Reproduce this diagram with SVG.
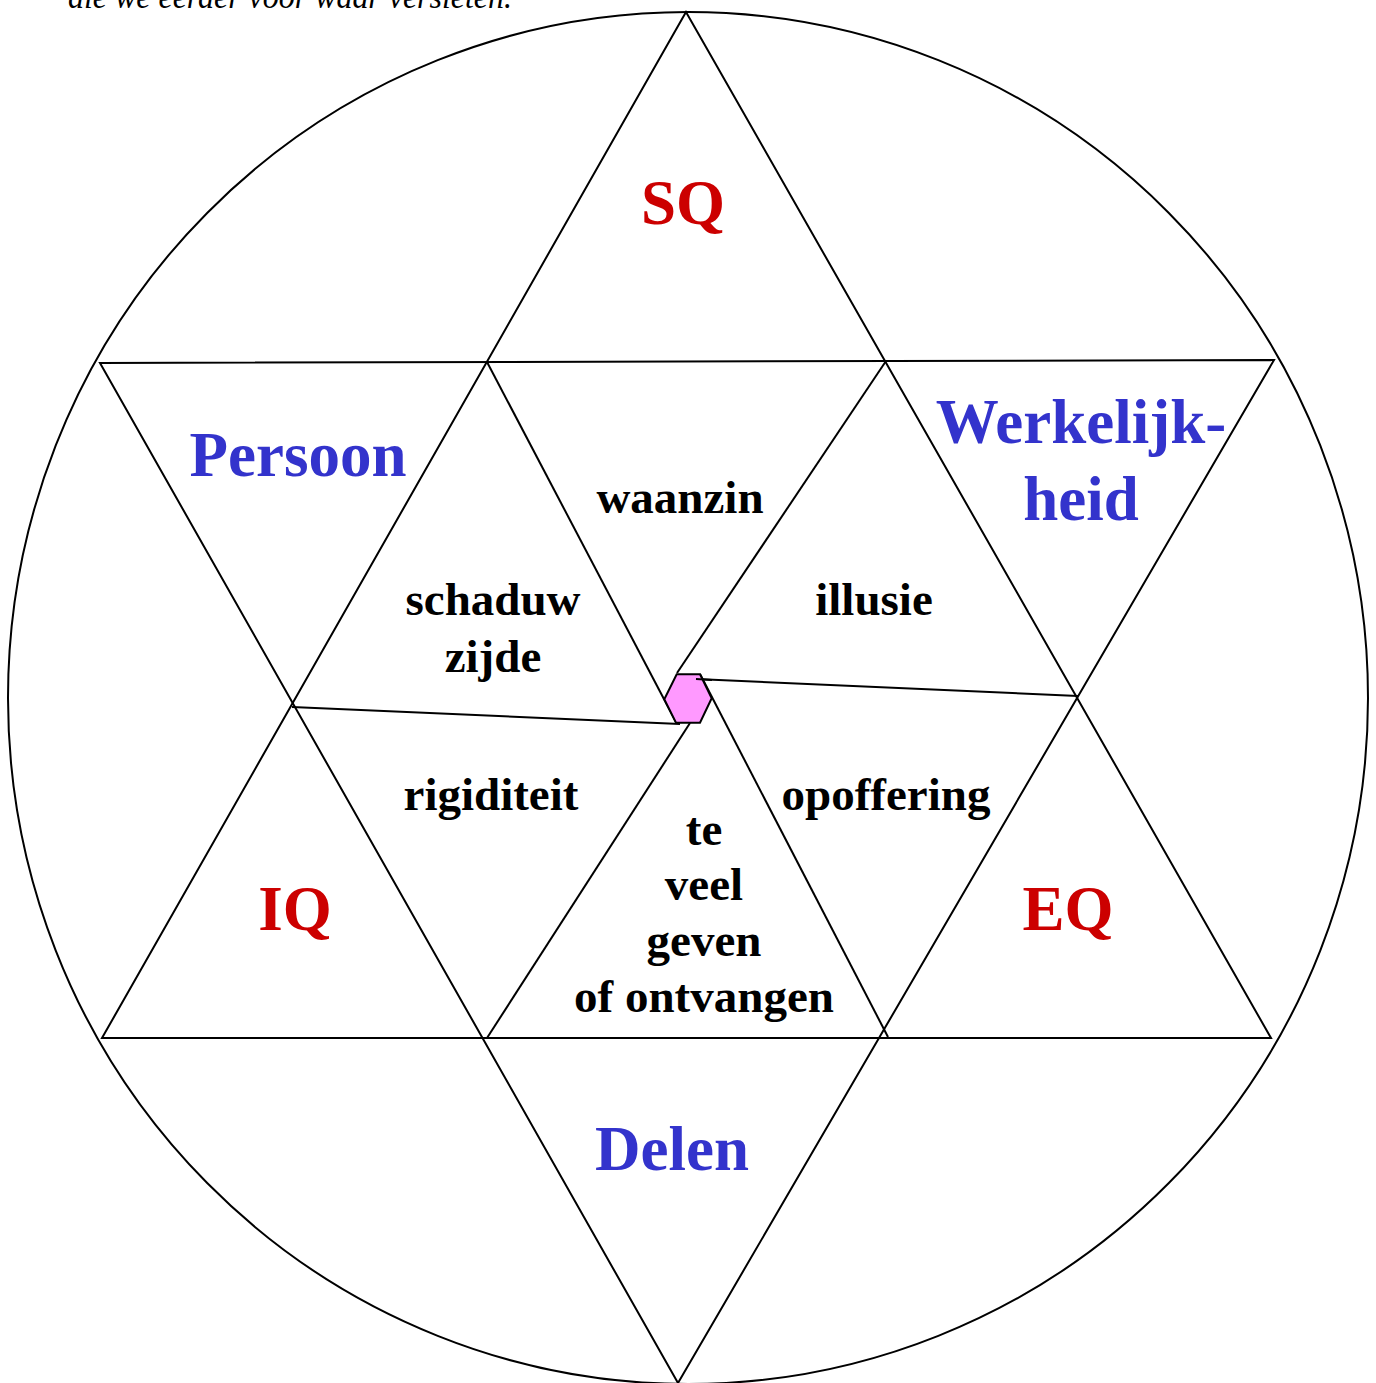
<svg xmlns="http://www.w3.org/2000/svg" width="1376" height="1383" viewBox="0 0 1376 1383">
<style>
.ln{fill:none;stroke:#000;stroke-width:2;stroke-linejoin:miter}
.big{font-family:"Liberation Serif","Times New Roman",serif;font-weight:bold;font-size:63px;text-anchor:middle}
.red{fill:#cc0000}
.blue{fill:#3333cc}
.blk{font-family:"Liberation Serif","Times New Roman",serif;font-weight:bold;font-size:47px;text-anchor:middle;fill:#000}
</style>
<rect width="1376" height="1383" fill="#fff"/>
<text x="68" y="8" font-family="Liberation Serif, Times New Roman, serif" font-style="italic" font-size="33" textLength="444" lengthAdjust="spacingAndGlyphs">die we eerder voor waar versleten.</text>
<g id="lines">
<ellipse class="ln" cx="688" cy="698" rx="680" ry="686"/>
<polygon class="ln" points="686,12 102,1038 1271,1038"/>
<polygon class="ln" points="100,363 1274,360 678,1383"/>
<line class="ln" x1="487" y1="362" x2="676" y2="722"/>
<line class="ln" x1="292" y1="707" x2="680" y2="724"/>
<line class="ln" x1="886" y1="361" x2="677" y2="673"/>
<line class="ln" x1="690" y1="723" x2="487" y2="1038"/>
<line class="ln" x1="700" y1="674" x2="888" y2="1037"/>
<line class="ln" x1="696" y1="679" x2="1078" y2="696"/>
</g>
<g id="center">
<polygon points="676.7,674.3 700,674.3 711.7,698.3 700,722.7 676,722.7 664.3,699.3" fill="#ff99ff" stroke="#000" stroke-width="2"/>
<line class="ln" x1="696" y1="679" x2="712" y2="680"/>
</g>
<g id="SQ"><text class="big red" x="683" y="224">SQ</text></g>
<g id="IQ"><text class="big red" x="295" y="930">IQ</text></g>
<g id="EQ"><text class="big red" x="1068" y="930">EQ</text></g>
<g id="Persoon"><text class="big blue" x="298" y="476">Persoon</text></g>
<g id="Werkelijkheid"><text class="big blue" x="1081" y="443">Werkelijk-</text><text class="big blue" x="1081" y="520">heid</text></g>
<g id="Delen"><text class="big blue" x="672" y="1170">Delen</text></g>
<g id="waanzin"><text class="blk" x="680" y="513">waanzin</text></g>
<g id="schaduwzijde"><text class="blk" x="493" y="615">schaduw</text><text class="blk" x="493" y="672">zijde</text></g>
<g id="illusie"><text class="blk" x="874" y="615">illusie</text></g>
<g id="rigiditeit"><text class="blk" x="491" y="810">rigiditeit</text></g>
<g id="opoffering"><text class="blk" x="886" y="810">opoffering</text></g>
<g id="teveel"><text class="blk" x="704" y="845">te</text><text class="blk" x="704" y="900">veel</text><text class="blk" x="704" y="956">geven</text><text class="blk" x="704" y="1012">of ontvangen</text></g>
</svg>
